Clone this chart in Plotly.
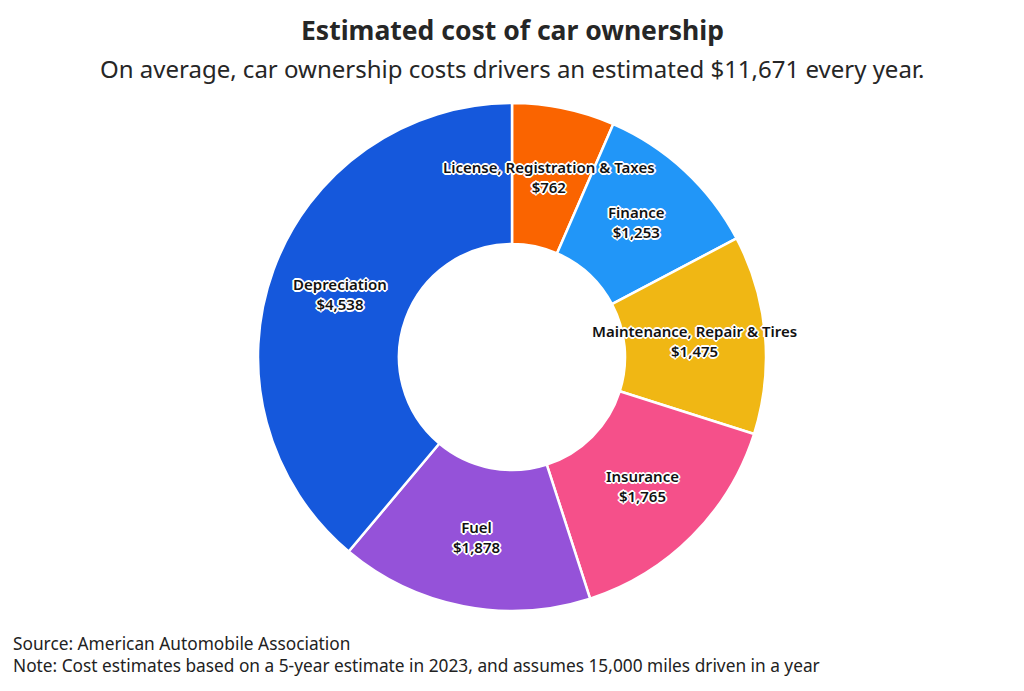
import math
import plotly.graph_objects as go

CATEGORIES = [
    "License, Registration & Taxes",
    "Finance",
    "Maintenance, Repair & Tires",
    "Insurance",
    "Fuel",
    "Depreciation",
]
COSTS = [762, 1253, 1475, 1765, 1878, 4538]
COLORS = ["#FA6400", "#2196F8", "#F0B714", "#F5508A", "#9552D9", "#1558DC"]

TITLE = "Estimated cost of car ownership"
SUBTITLE = "On average, car ownership costs drivers an estimated $11,671 every year."
SOURCE = "Source: American Automobile Association"
NOTE = "Note: Cost estimates based on a 5-year estimate in 2023, and assumes 15,000 miles driven in a year"

W, H = 1024, 691
CX, CY, R = 512, 357, 254      # pie centre / outer radius in pixels
HOLE = 0.445
FONT = "Noto Sans"
OUTLINE = ("-1px -1px 0 #fff, 1px -1px 0 #fff, -1px 1px 0 #fff, 1px 1px 0 #fff, "
           "0 2px 0 #fff, 0 -2px 0 #fff, 2px 0 0 #fff, -2px 0 0 #fff")

fig = go.Figure(go.Pie(
    labels=CATEGORIES,
    values=COSTS,
    hole=HOLE,
    sort=False,
    direction="clockwise",
    rotation=0,
    marker=dict(colors=COLORS, line=dict(color="white", width=2.5)),
    textinfo="none",
    hoverinfo="label+value",
    showlegend=False,
    domain=dict(x=[(CX - R) / W, (CX + R) / W], y=[1 - (CY + R) / H, 1 - (CY - R) / H]),
))


def paper(px, py):
    return px / W, 1 - py / H


# slice labels at the middle of the ring, mid-angle of each slice
annotations = []
total = sum(COSTS)
cum = 0
r_mid = R * (1 + HOLE) / 2
label_font = dict(family=FONT, size=15, color="#111111", weight=600, shadow=OUTLINE)
for name, cost in zip(CATEGORIES, COSTS):
    ang = 2 * math.pi * (cum + cost / 2) / total
    cum += cost
    lx = CX + r_mid * math.sin(ang)
    ly = CY - r_mid * math.cos(ang)
    x, y = paper(lx, ly)
    annotations.append(dict(text=f"{name}<br>${cost:,}", x=x, y=y, xref="paper", yref="paper",
                            showarrow=False, xanchor="center", yanchor="middle",
                            font=label_font))

for text, py, size, weight in [(TITLE, 30, 26.5, 700), (SUBTITLE, 69, 24, 400)]:
    x, y = paper(W / 2, py)
    annotations.append(dict(text=text, x=x, y=y, xref="paper", yref="paper",
                            showarrow=False, xanchor="center", yanchor="middle",
                            font=dict(size=size, color="#262626", family=FONT, weight=weight)))

for text, py in [(SOURCE, 643), (NOTE, 665)]:
    x, y = paper(11, py)
    annotations.append(dict(text=text, x=x, y=y, xref="paper", yref="paper",
                            showarrow=False, xanchor="left", yanchor="middle",
                            font=dict(size=17.3, color="#222222", family=FONT)))

fig.update_layout(
    width=W,
    height=H,
    margin=dict(l=0, r=0, t=0, b=0),
    paper_bgcolor="white",
    plot_bgcolor="white",
    font=dict(family=FONT, color="#222222"),
    annotations=annotations,
)

fig.write_html("out.html", config={"displayModeBar": False},
               post_script="document.body.style.margin = '0';")
